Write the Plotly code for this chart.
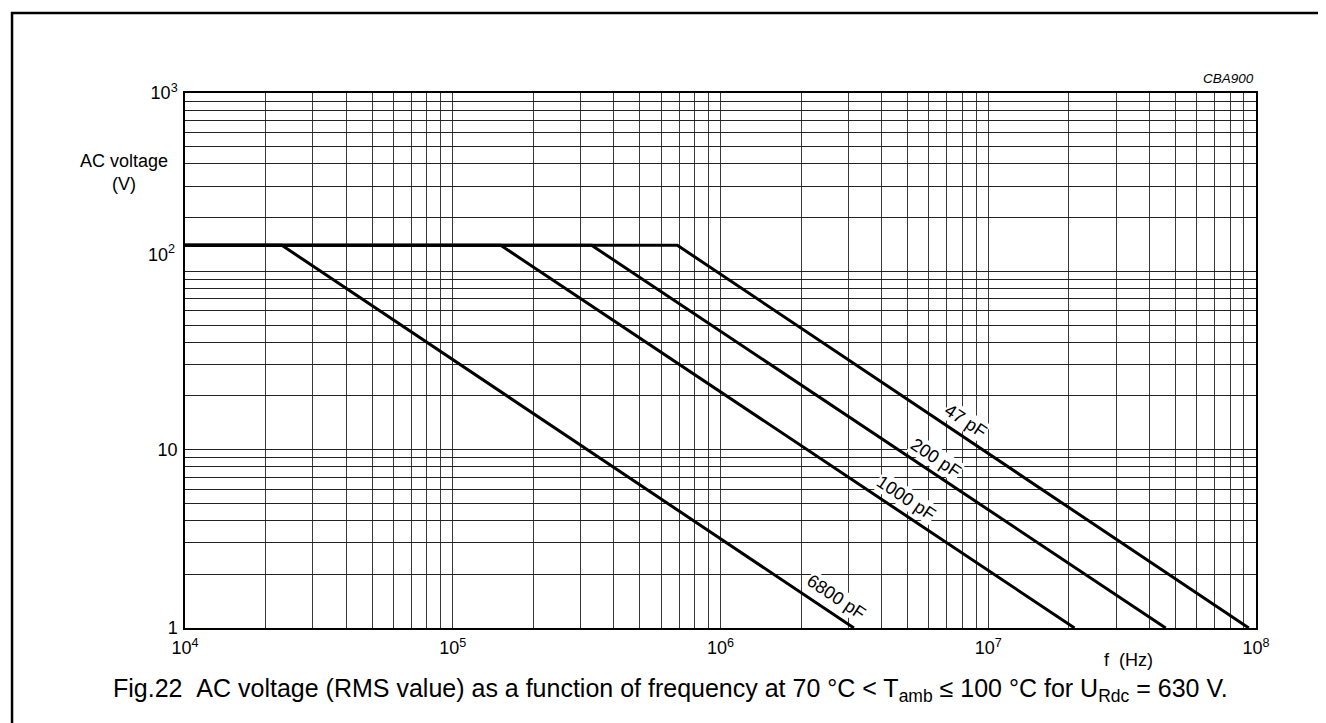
import numpy as np
import plotly.graph_objects as go

# ---- data ----
capacitances = ["47 pF", "200 pF", "1000 pF", "6800 pF"]
v_max = 140.0                       # flat AC voltage limit (V)
f_start = 1e4                       # start of flat segment (Hz)
f_corner = [690e3, 330e3, 151e3, 23e3]      # knee frequency (Hz)
f_end = [94e6, 46e6, 21e6, 3.15e6]          # frequency where curve reaches 1 V
v_end = 1.0
label_f = [8.26e6, 6.38e6, 4.93e6, 2.70e6]  # where each label sits along its curve

x_ticks = [1e4, 1e5, 1e6, 1e7, 1e8]
x_ticktext = ["10<sup>4</sup>", "10<sup>5</sup>", "10<sup>6</sup>", "10<sup>7</sup>", "10<sup>8</sup>"]
y_ticks = [1, 10, 100, 1000]
y_ticktext = ["1", "10", "10<sup>2</sup>", "10<sup>3</sup>"]

FONT = "Liberation Sans, Arial, sans-serif"
TICK = 18

fig = go.Figure()
for name, fc, fe in zip(capacitances, f_corner, f_end):
    fig.add_trace(go.Scatter(
        x=[f_start, fc, fe], y=[v_max, v_max, v_end],
        mode="lines", line=dict(color="black", width=3),
        name=name, showlegend=False, hoverinfo="skip"))

# grid values: every 1..9 multiple of each decade
x_grid = [m * 10**e for e in range(4, 8) for m in range(1, 10)] + [1e8]
y_grid = [m * 10**e for e in range(0, 3) for m in range(1, 10)] + [1000]

def ticktexts(grid, ticks, texts, skip=()):
    out = []
    for g in grid:
        t = ""
        for tv, tt in zip(ticks, texts):
            if abs(np.log10(g) - np.log10(tv)) < 1e-9 and tv not in skip:
                t = tt
        out.append(t)
    return out

fig.update_xaxes(
    type="log", range=[4, 8],
    tickvals=x_grid, ticktext=ticktexts(x_grid, x_ticks, x_ticktext),
    showgrid=True, gridcolor="#3a3a3a", gridwidth=1,
    showline=True, linecolor="black", linewidth=1.5, mirror=True,
    ticks="", ticklabelstandoff=3,
    tickfont=dict(family=FONT, size=TICK, color="black"),
    zeroline=False)
fig.update_yaxes(
    type="log", range=[0, 3],
    tickvals=y_grid, ticktext=ticktexts(y_grid, y_ticks, y_ticktext, skip=(100,)),
    showgrid=True, gridcolor="#222", gridwidth=1,
    showline=True, linecolor="black", linewidth=1.5, mirror=True,
    ticks="", ticklabelstandoff=2,
    tickfont=dict(family=FONT, size=TICK, color="black"),
    zeroline=False)

annotations = []
# 10^2 label is drawn slightly above its grid line in the original
annotations.append(dict(x=0, xref="paper", y=np.log10(100), yref="y",
                        text="10<sup>2</sup>", showarrow=False,
                        xanchor="right", yanchor="middle",
                        xshift=-8, yshift=18,
                        font=dict(family=FONT, size=TICK, color="black")))
# curve labels
slope_angle = float(np.degrees(np.arctan((535 / 3) / (1071 / 4))))
for name, fc, lf in zip(capacitances, f_corner, label_f):
    v_on = v_max * fc / lf
    annotations.append(dict(x=np.log10(lf), y=np.log10(v_on), xref="x", yref="y",
                            text=name, showarrow=False, textangle=slope_angle,
                            xanchor="center", yanchor="middle",
                            yshift=17, bgcolor="white", borderpad=0,
                            font=dict(family=FONT, size=18, color="black")))
# axis titles and captions
annotations += [
    dict(x=-0.0567, y=0.8514, xref="paper", yref="paper", text="AC voltage<br>(V)",
         showarrow=False, align="center", xanchor="center", yanchor="middle",
         font=dict(family=FONT, size=18, color="black")),
    dict(x=0.8805, y=-0.0598, xref="paper", yref="paper", text="f\u00a0\u00a0(Hz)",
         showarrow=False, xanchor="center", yanchor="middle",
         font=dict(family=FONT, size=18, color="black")),
    dict(x=1.0, y=1.028, xref="paper", yref="paper", text="<i>CBA900</i>",
         showarrow=False, xanchor="right", yanchor="middle",
         font=dict(family=FONT, size=13.5, color="black")),
    dict(x=-0.0691, y=-0.1159, xref="paper", yref="paper", xanchor="left",
         yanchor="middle", showarrow=False,
         text=("Fig.22\u00a0\u00a0AC voltage (RMS value) as a function of frequency at 70 \u00b0C &lt; "
               "T<sub>amb</sub> \u2264 100 \u00b0C for U<sub>Rdc</sub> = 630 V."),
         font=dict(family=FONT, size=25, color="black")),
]

fig.update_layout(
    width=1326, height=723,
    margin=dict(l=177, r=78, t=85, b=103),
    paper_bgcolor="white", plot_bgcolor="white",
    annotations=annotations,
    shapes=[dict(type="rect", xref="paper", yref="paper",
                 x0=-0.1615, x1=1.0682, y0=-0.25, y1=1.1495,
                 line=dict(color="black", width=2.5), layer="above")],
)

fig.write_html("out.html")
